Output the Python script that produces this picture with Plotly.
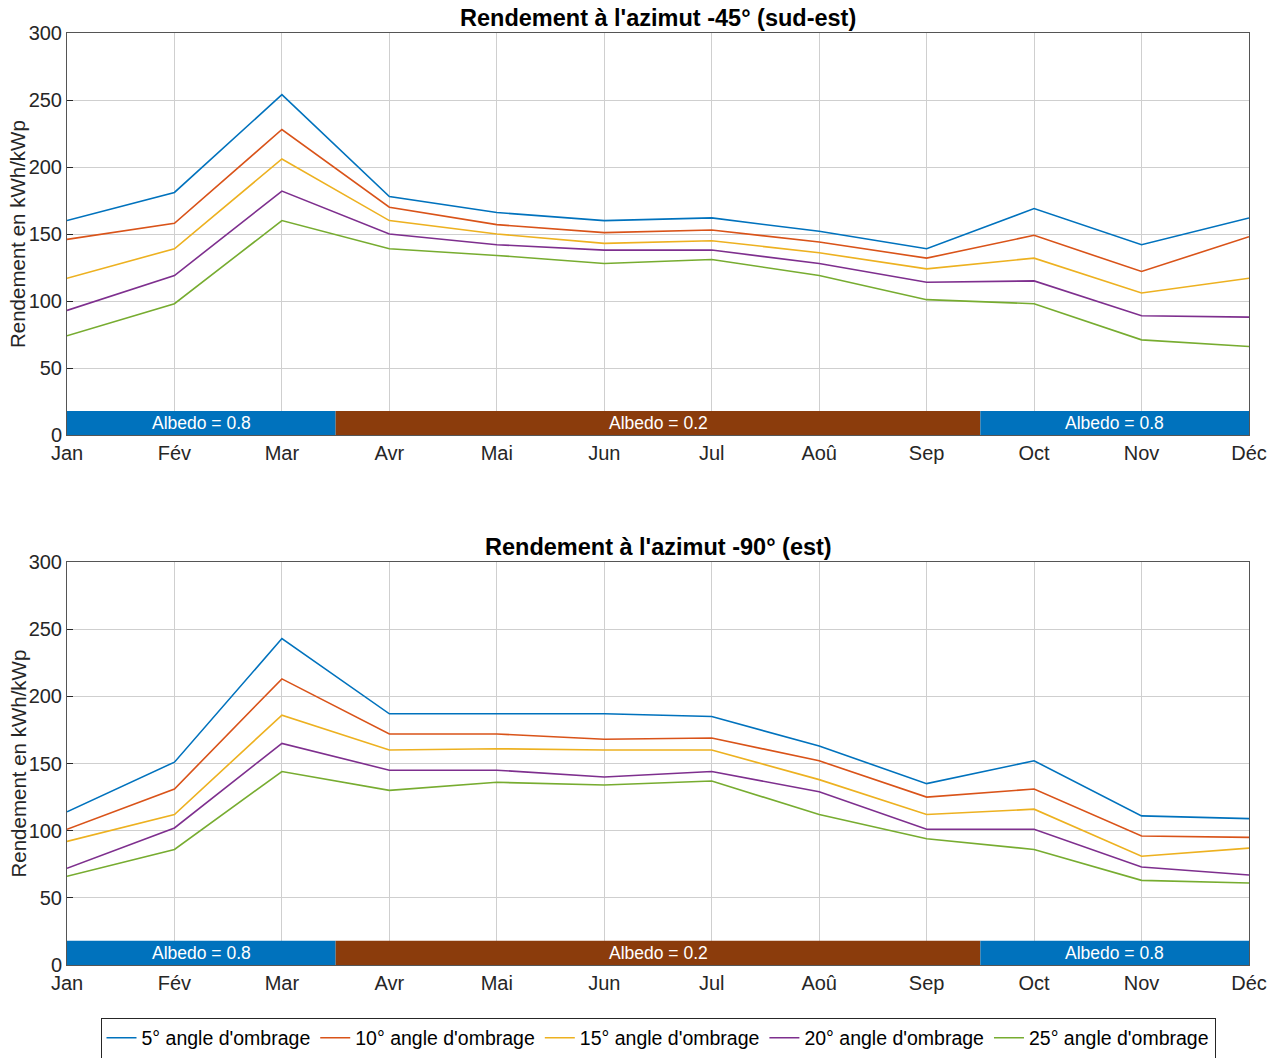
import plotly.graph_objects as go

months = ["Jan", "Fév", "Mar", "Avr", "Mai", "Jun", "Jul", "Aoû", "Sep", "Oct", "Nov", "Déc"]
series_names = ["5° angle d'ombrage", "10° angle d'ombrage", "15° angle d'ombrage",
                "20° angle d'ombrage", "25° angle d'ombrage"]
colors = ["#0072BD", "#D95319", "#EDB120", "#7E2F8E", "#77AC30"]

# Azimut -45° (sud-est)
se_5 = [160, 181, 254, 178, 166, 160, 162, 152, 139, 169, 142, 162]
se_10 = [146, 158, 228, 170, 157, 151, 153, 144, 132, 149, 122, 148]
se_15 = [117, 139, 206, 160, 150, 143, 145, 136, 124, 132, 106, 117]
se_20 = [93, 119, 182, 150, 142, 138, 138, 128, 114, 115, 89, 88]
se_25 = [74, 98, 160, 139, 134, 128, 131, 119, 101, 98, 71, 66]

# Azimut -90° (est)
e_5 = [114, 151, 243, 187, 187, 187, 185, 163, 135, 152, 111, 109]
e_10 = [101, 131, 213, 172, 172, 168, 169, 152, 125, 131, 96, 95]
e_15 = [92, 112, 186, 160, 161, 160, 160, 138, 112, 116, 81, 87]
e_20 = [72, 102, 165, 145, 145, 140, 144, 129, 101, 101, 73, 67]
e_25 = [66, 86, 144, 130, 136, 134, 137, 112, 94, 86, 63, 61]

# Albedo periods (start index, end index, label)
albedo_start = [0, 2.5, 8.5]
albedo_end = [2.5, 8.5, 11]
albedo_labels = ["Albedo = 0.8", "Albedo = 0.2", "Albedo = 0.8"]
albedo_colors = ["#0072BD", "#8B3C0C", "#0072BD"]
albedo_height = 18

titles = ["Rendement à l'azimut -45° (sud-est)", "Rendement à l'azimut -90° (est)"]
data = [[se_5, se_10, se_15, se_20, se_25], [e_5, e_10, e_15, e_20, e_25]]

# page has an 8px body margin -> figure is 8px smaller and all positions shifted
OFF = 8
W, H = 1280 - OFF, 1058 - OFF
ml = 67 - OFF
mt = 33 - OFF
mr = W - (1249 - OFF)
mb = H - (965 - OFF)
ph = H - mt - mb
pw = W - ml - mr
top_dom = [1 - (435 - 33) / ph, 1.0]
bot_dom = [0.0, 1 - (562 - 33) / ph]

fig = go.Figure()
font = "Liberation Sans, Arial, Helvetica, sans-serif"
x = list(range(12))

for p, rows in enumerate(data):
    xa = "x" if p == 0 else "x2"
    ya = "y" if p == 0 else "y2"
    for i, vals in enumerate(rows):
        fig.add_trace(go.Scatter(x=x, y=vals, mode="lines", name=series_names[i],
                                 line=dict(color=colors[i], width=1.6),
                                 xaxis=xa, yaxis=ya, showlegend=(p == 0)))
    for s, e, lab, c in zip(albedo_start, albedo_end, albedo_labels, albedo_colors):
        fig.add_shape(type="rect", xref=xa, yref=ya, x0=s, x1=e, y0=0, y1=albedo_height,
                      fillcolor=c, line=dict(width=0), layer="above")
        fig.add_annotation(xref=xa, yref=ya, x=(s + e) / 2, y=albedo_height / 2, text=lab,
                           showarrow=False, xanchor="center", yanchor="middle",
                           font=dict(color="white", size=17.5, family=font))
    dom = top_dom if p == 0 else bot_dom
    fig.add_annotation(xref="paper", yref="paper", x=0.5, y=dom[1], xanchor="center",
                       yanchor="bottom", yshift=1, borderpad=0, text="<b>" + titles[p] + "</b>",
                       showarrow=False, font=dict(size=23.5, color="black", family=font))
    fig.add_annotation(xref="paper", yref="paper", x=-(67 - 18) / pw, y=(dom[0] + dom[1]) / 2,
                       xanchor="center", yanchor="middle", borderpad=0,
                       textangle=-90, text="Rendement en kWh/kWp", showarrow=False,
                       font=dict(size=20.5, color="#262626", family=font))

axis_common = dict(showline=True, linecolor="#555555", linewidth=1, mirror=True,
                   showgrid=True, gridcolor="#cfcfcf", gridwidth=1,
                   ticks="inside", ticklen=6, tickcolor="#262626",
                   tickfont=dict(size=20, color="#262626", family=font), zeroline=False,
                   automargin=False)

fig.update_layout(
    width=W, height=H,
    margin=dict(l=ml, r=mr, t=mt, b=mb, autoexpand=False),
    plot_bgcolor="white", paper_bgcolor="white",
    xaxis=dict(domain=[0, 1], range=[0, 11], tickvals=x, ticktext=months, anchor="y", **axis_common),
    yaxis=dict(domain=top_dom, range=[0, 300], dtick=50, anchor="x", **axis_common),
    xaxis2=dict(domain=[0, 1], range=[0, 11], tickvals=x, ticktext=months, anchor="y2", **axis_common),
    yaxis2=dict(domain=bot_dom, range=[0, 300], dtick=50, anchor="x2", **axis_common),
    legend=dict(orientation="h", x=0.5, xanchor="center", y=-(1038 - 965) / ph, yanchor="middle",
                bordercolor="#262626", borderwidth=1, bgcolor="white",
                font=dict(size=19.5, color="black", family=font), itemwidth=30,
                tracegroupgap=0),
    showlegend=True,
)

fig.write_html("out.html")
